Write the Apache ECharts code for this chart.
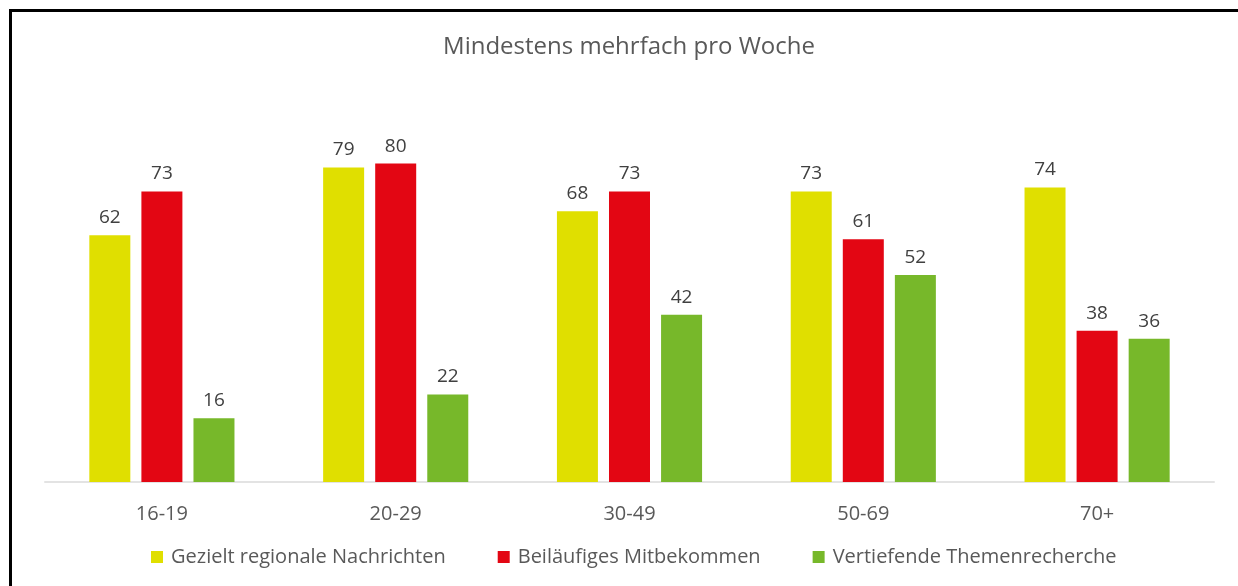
<!DOCTYPE html>
<html>
<head>
<meta charset="utf-8">
<script src="https://cdn.jsdelivr.net/npm/echarts@6/dist/echarts.min.js"></script>
<style>
  html, body { margin: 0; padding: 0; background: #fff; }
  #chart { width: 1238px; height: 586px; }
  /* Rahmen oben und links wie im Original */
  #frame { position: absolute; left: 9px; top: 9px; width: 1240px; height: 600px;
           border-left: 3px solid #000; border-top: 3px solid #000; pointer-events: none; }
</style>
</head>
<body>
<div id="chart"></div>
<div id="frame"></div>
<script>
// Altersgruppen
const categories = ['16-19', '20-29', '30-49', '50-69', '70+']
// Werte in Prozent
const gezielt = [62, 79, 68, 73, 74]
const beilaeufig = [73, 80, 73, 61, 38]
const vertiefend = [16, 22, 42, 52, 36]
const seriesNames = ['Gezielt regionale Nachrichten', 'Beiläufiges Mitbekommen', 'Vertiefende Themenrecherche']
const colors = ['#e0df00', '#e30613', '#77b82a']

const font = "'Open Sans', 'Noto Sans', sans-serif"
const chart = echarts.init(document.getElementById('chart'))

const makeSeries = (name, data, color) => ({
  name: name,
  type: 'bar',
  data: data,
  barWidth: 41,
  barGap: '27%',
  itemStyle: { color: color },
  label: {
    show: true,
    position: 'top',
    distance: 8,
    color: '#404040',
    fontSize: 19,
    fontFamily: font
  }
})

const option = {
  backgroundColor: '#fff',
  animation: false,
  color: colors,
  title: {
    text: 'Mindestens mehrfach pro Woche',
    left: 624,
    textAlign: 'center',
    top: 30,
    textStyle: { color: '#595959', fontSize: 24, fontWeight: 'normal', fontFamily: font }
  },
  legend: {
    bottom: 14,
    left: 146,
    itemWidth: 12,
    itemHeight: 12,
    itemGap: 52,
    icon: 'rect',
    textStyle: { color: '#595959', fontSize: 20, fontFamily: font, padding: [0, 0, 0, 3] }
  },
  grid: { left: 45, right: 24, top: 84, bottom: 104 },
  xAxis: {
    type: 'category',
    data: categories,
    axisLine: { lineStyle: { color: '#e3e3e3', width: 2 } },
    axisTick: { show: false },
    axisLabel: { color: '#595959', fontSize: 20, margin: 22, fontFamily: font }
  },
  yAxis: {
    type: 'value',
    min: 0,
    max: 100,
    show: false,
    splitLine: { show: false }
  },
  series: [
    makeSeries(seriesNames[0], gezielt, colors[0]),
    makeSeries(seriesNames[1], beilaeufig, colors[1]),
    makeSeries(seriesNames[2], vertiefend, colors[2])
  ]
}
chart.setOption(option)
</script>
</body>
</html>
